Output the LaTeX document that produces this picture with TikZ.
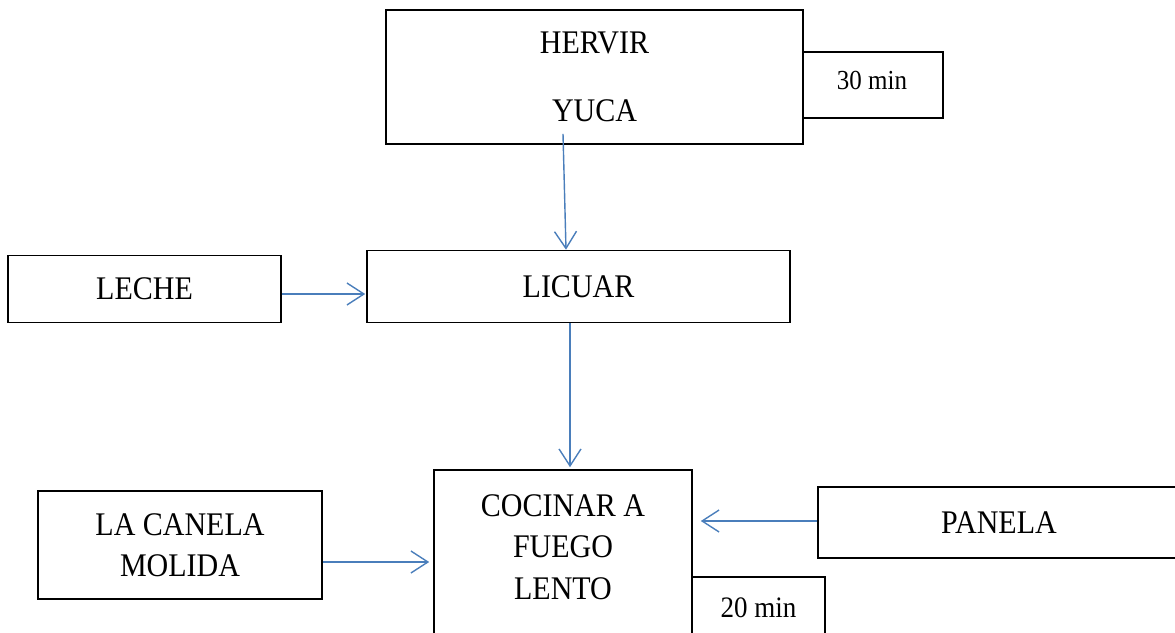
\documentclass[tikz,border=0pt]{standalone}
\usepackage{fontspec}
\setmainfont{Liberation Serif}
\usetikzlibrary{arrows.meta,calc}
\definecolor{conn}{HTML}{4A7EBB}
\newcommand\vst[1]{\scalebox{1}[1.1]{#1}}
\tikzset{
  box/.style={draw=black,line width=1.6pt,fill=white,inner sep=0pt,align=center,
    font=\fontsize{30}{41}\selectfont},
  small/.style={font=\fontsize{25}{30}\selectfont},
  arr/.style={draw=conn,line width=1.4pt,-{Straight Barb[length=17pt,width=22pt,line width=1.4pt]}},
  lbl/.style={inner sep=0pt,align=center,font=\fontsize{30}{41.5}\selectfont}
}
\begin{document}
\begin{tikzpicture}[x=1pt,y=-1pt]
\useasboundingbox (0,0) rectangle (1175,632);
\clip (0,0) rectangle (1175,632);
% boxes
\node[box,minimum width=417pt,minimum height=134pt,font=\fontsize{30}{68}\selectfont] (hervir) at (594.5,77) {\vst{HERVIR}\\\vst{YUCA}};
\node[box,minimum width=140pt,minimum height=66pt] (t30) at (873,85) {};
\node[lbl,small] (t30T) at (872,80) {\vst{30 min}};
\node[box,minimum width=273pt,minimum height=67pt] (leche) at (144.5,289) {\vst{LECHE}};
\node[box,minimum width=423pt,minimum height=72pt] (licuar) at (578.5,286.5) {\vst{LICUAR}};
\node[box,minimum width=284pt,minimum height=108pt] (canela) at (180,545) {\vst{LA CANELA}\\\vst{MOLIDA}};
\node[box,minimum width=258pt,minimum height=180pt] (cocinar) at (563,560) {};
\node[lbl] (cocinarT) at (563,547) {\vst{COCINAR A}\\\vst{FUEGO}\\\vst{LENTO}};
\node[box,font=\fontsize{27}{30}\selectfont,minimum width=133pt,minimum height=62pt] (t20) at (758.5,608) {\vst{20 min}};
\node[box,minimum width=362pt,minimum height=71pt] (panela) at (999,522.5) {\vst{PANELA}};
% connectors
\draw[arr] ($(hervir.south)+(-31.5,-11)$) -- ($(licuar.north)+(-12.5,0)$);
\draw[arr] ($(leche.east)+(0,5)$) -- ($(licuar.west)+(-1,7.5)$);
\draw[arr] ($(licuar.south)+(-8.5,0)$) -- ($(cocinar.north)+(7,-2)$);
\draw[arr] ($(canela.east)+(0,17)$) -- ($(cocinar.west)+(-4,2)$);
\draw[arr] ($(panela.west)+(0,-1.5)$) -- ($(cocinar.east)+(8,-39)$);
\end{tikzpicture}
\end{document}
